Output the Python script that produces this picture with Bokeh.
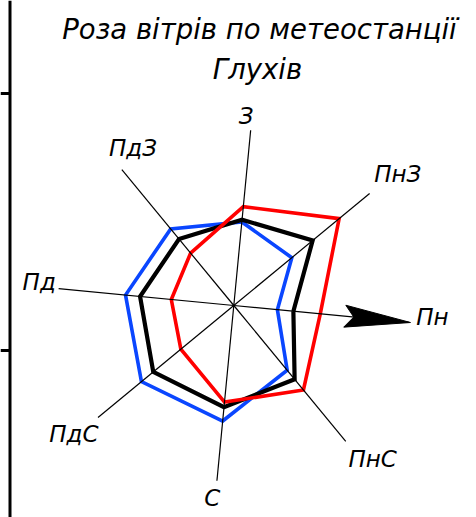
import math
from bokeh.plotting import figure
from bokeh.models import Range1d
from bokeh.core.properties import value
from bokeh.embed import file_html
from bokeh.resources import INLINE

# ---------------- data (wind frequency, %) ----------------
directions = ["Пн", "ПнС", "С", "ПдС", "Пд", "ПдЗ", "З", "ПнЗ"]
year_pct = [8.2, 13.1, 14.0, 14.3, 12.9, 11.8, 11.8, 14.0]      # black
january_pct = [6.0, 11.5, 15.9, 16.4, 14.9, 13.6, 11.5, 10.3]   # blue
july_pct = [11.9, 15.0, 13.3, 9.4, 8.6, 9.3, 13.6, 18.7]        # red
title_lines = ["Роза вітрів по метеостанції", "Глухів"]

# ---------------- layout constants ----------------
W, H = 476, 517
CX, CY = 233.3, 305.0        # rose centre in page pixels
PX = 7.3                     # pixels per percent
ROT = -5.5                   # rotation of the "Пн" axis, degrees
AXIS_PX = 176.0
FONT = value("DejaVu Sans")

# label placement (radius px, angle deg) measured from the rose centre
label_polar = [(199, -3.4), (207, -47.9), (194, -96.4), (205, -141.3),
               (196, 173.2), (187, 122.6), (190, 86.3), (210, 38.7)]


def ang(i):
    return math.radians(ROT - 45 * i)


def sx(px):
    return (px - CX) / PX


def sy(py):
    return (CY - py) / PX


p = figure(width=W, height=H,
           x_range=Range1d(sx(0), sx(W)), y_range=Range1d(sy(H), sy(0)),
           output_backend="svg", toolbar_location=None, tools="",
           x_axis_location=None, y_axis_location=None, min_border=0)
p.grid.visible = False
p.outline_line_color = None
p.background_fill_color = "white"
p.border_fill_color = "white"

# frame line on the left
p.segment(x0=[sx(9.5)], y0=[sy(0)], x1=[sx(9.5)], y1=[sy(H)], line_color="black", line_width=3)
p.segment(x0=[sx(0), sx(0)], y0=[sy(93), sy(350)], x1=[sx(9.5), sx(9.5)], y1=[sy(93), sy(350)],
          line_color="black", line_width=3)


def ring(vals):
    xs = [v * math.cos(ang(i)) for i, v in enumerate(vals)]
    ys = [v * math.sin(ang(i)) for i, v in enumerate(vals)]
    return xs + xs[:1], ys + ys[:1]


for vals, col, lw in [(january_pct, "#0a46ff", 3.6), (year_pct, "black", 4.2), (july_pct, "#ff0000", 3.6)]:
    xs, ys = ring(vals)
    p.line(xs, ys, line_color=col, line_width=lw, line_join="miter")

# axes
L = AXIS_PX / PX
p.segment(x0=[0] * 8, y0=[0] * 8,
          x1=[L * math.cos(ang(i)) for i in range(8)],
          y1=[L * math.sin(ang(i)) for i in range(8)],
          line_color="black", line_width=1.2)

# arrow on "Пн"
a = ang(0)
shape = [(177.5, 0), (111.5, 11), (120.5, 0), (111.5, -11)]
ax = [(u * math.cos(a) - v * math.sin(a)) / PX for u, v in shape]
ay = [(u * math.sin(a) + v * math.cos(a)) / PX for u, v in shape]
p.patch(ax, ay, fill_color="black", line_color="black", line_width=1)

# direction labels
lx = [r * math.cos(math.radians(t)) / PX for r, t in label_polar]
ly = [r * math.sin(math.radians(t)) / PX for r, t in label_polar]
p.text(x=lx, y=ly, text=directions, text_font=FONT, text_font_style="italic",
       text_font_size="23px", text_align="center", text_baseline="middle", text_color="black")

# title
p.text(x=[sx(259), sx(257)], y=[sy(28), sy(68)], text=title_lines, text_font=FONT,
       text_font_style="italic", text_font_size="27.5px", text_align="center",
       text_baseline="middle", text_color="black")

open("out.html", "w").write(file_html(p, INLINE))
